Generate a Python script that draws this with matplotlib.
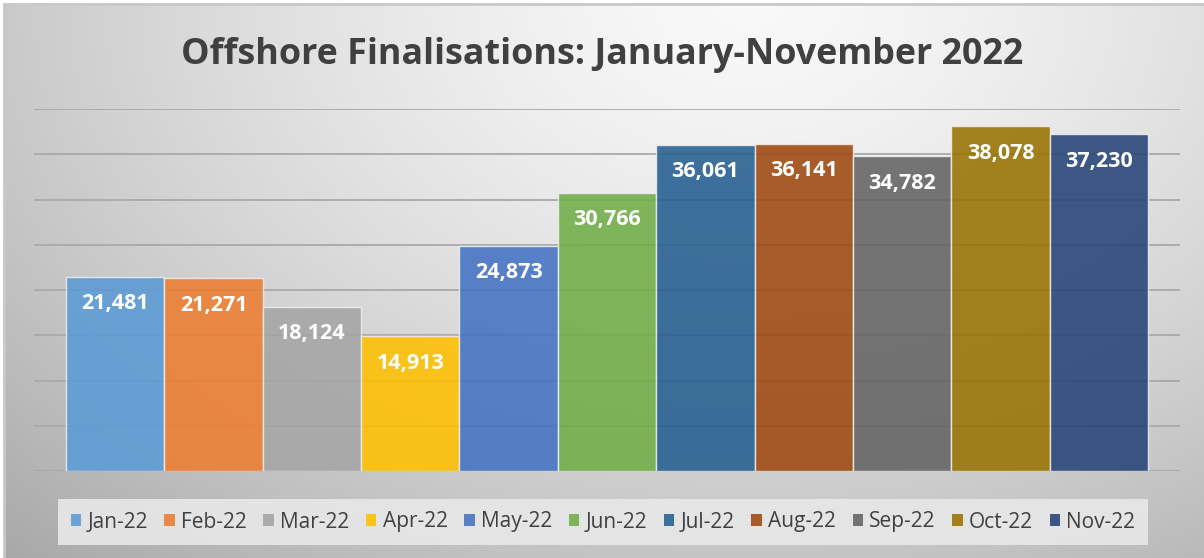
import numpy as np
import matplotlib
matplotlib.use("Agg")
import matplotlib.pyplot as plt
from matplotlib.patches import Patch

months = ["Jan-22", "Feb-22", "Mar-22", "Apr-22", "May-22", "Jun-22",
          "Jul-22", "Aug-22", "Sep-22", "Oct-22", "Nov-22"]
finalisations = [21481, 21271, 18124, 14913, 24873, 30766,
                 36061, 36141, 34782, 38078, 37230]
colors = ["#5B9BD5", "#ED7D31", "#A5A5A5", "#FFC000", "#4472C4", "#70AD47",
          "#255E91", "#9E480E", "#636363", "#997300", "#264478"]
title = "Offshore Finalisations: January-November 2022"

W, H = 1204, 558
fig = plt.figure(figsize=(W / 100, H / 100), dpi=100)
fig.patch.set_facecolor("white")

# background gradient
bg = fig.add_axes([4 / W, 0, 1 - 4 / W, 1 - 4 / H])
yy, xx = np.mgrid[0:1:300j, 0:1:600j]
r = np.sqrt(((xx - 0.62) / 1.0) ** 2 + ((yy - 0.0) / 1.5) ** 2)
val = np.clip(0.975 - 0.36 * r ** 1.4, 0, 1)
bg.imshow(np.dstack([val, val, val]), aspect="auto", extent=[0, 1, 0, 1],
          origin="upper", interpolation="bilinear")
bg.set_axis_off()
bg.plot([0, 1], [1, 1], color="#c8c8c8", lw=2, transform=bg.transAxes, clip_on=False)
bg.plot([0, 0], [0, 1], color="#c8c8c8", lw=2, transform=bg.transAxes, clip_on=False)

ax = fig.add_axes([34 / W, 1 - 471 / H, (1180 - 34) / W, (471 - 109) / H])
ax.patch.set_alpha(0)
x = np.arange(len(months))
bars = ax.bar(x, finalisations, width=1.0, color=colors, alpha=0.88,
              edgecolor="#eeeeee", linewidth=1.0, zorder=3)
ax.set_xlim(-0.5 - 32 / 98.3, len(months) - 0.5 + 32 / 98.3)
ax.set_ylim(0, 40000)
ax.set_yticks(np.arange(0, 40001, 5000))
ax.yaxis.grid(True, color="#a9a9a9", lw=1.3, zorder=0)
ax.tick_params(left=False, bottom=False, labelleft=False, labelbottom=False)
for s in ax.spines.values():
    s.set_visible(False)

for xi, v in zip(x, finalisations):
    ax.annotate(f"{v:,}", (xi, v), xytext=(0, -27), textcoords="offset pixels",
                ha="center", va="center", color="white", fontsize=15.5,
                fontweight="bold", family="Open Sans", zorder=5)

fig.text(602 / W, 1 - 55 / H, title, ha="center", va="center",
         fontsize=25.8, fontweight="bold", color="#404040", family="Open Sans")

handles = [Patch(facecolor=c, alpha=0.88, edgecolor="none") for c in colors]
leg = fig.legend(handles, months, loc="center", ncol=len(months),
                 bbox_to_anchor=(603 / W, 1 - 522 / H), frameon=True,
                 prop={"family": "Open Sans", "size": 15},
                 handlelength=0.5, handleheight=0.5, handletextpad=0.3,
                 columnspacing=0.8, borderpad=0.6, borderaxespad=0,
                 fancybox=False)
leg.get_frame().set_facecolor("#e8e8e8")
leg.get_frame().set_edgecolor("none")
leg.get_frame().set_alpha(0.9)
for t in leg.get_texts():
    t.set_color("#404040")

fig.savefig("out.png", dpi=100)
